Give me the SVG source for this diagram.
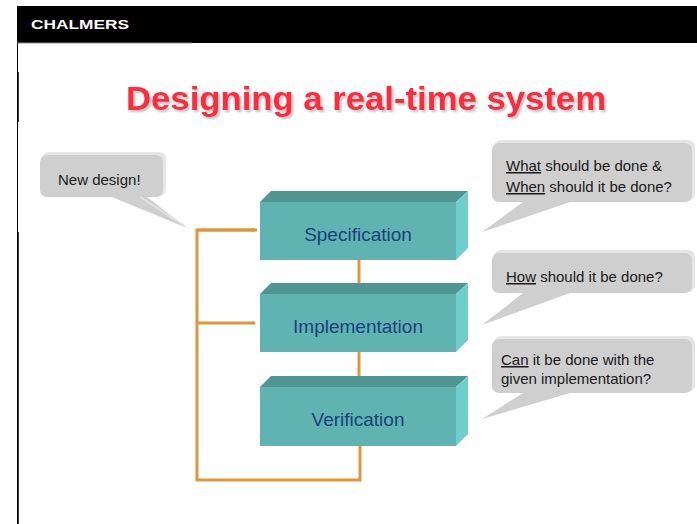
<svg xmlns="http://www.w3.org/2000/svg" width="697" height="524" viewBox="0 0 697 524">
  <style>
    .hdr { font-family: "Liberation Sans", Arial, sans-serif; font-weight: bold; fill: #ffffff; }
    .title { font-family: "Liberation Sans", Arial, sans-serif; font-weight: bold; font-size: 34px; }
    .box-front { fill: #5fb4b2; }
    .box-top { fill: #4f9693; }
    .box-side { fill: #6fcdcc; }
    .box-text { font-family: "Liberation Sans", Arial, sans-serif; font-size: 19px; fill: #1d3f7c; text-anchor: middle; }
    .bubble { fill: #cfcfcf; }
    .bubble-edge { fill: #e6e6e6; }
    .btext { font-family: "Liberation Sans", Arial, sans-serif; font-size: 15px; fill: #1a1a1a; }
    .conn { fill: none; stroke: #e0973a; stroke-width: 3; }
  </style>
  <defs>
    <marker id="tip" viewBox="0 0 4 4" refX="3" refY="2" markerWidth="4" markerHeight="4" markerUnits="userSpaceOnUse" orient="auto">
      <path d="M0,0 L4,2 L0,4 Z" fill="#e0973a"/>
    </marker>
    <filter id="shadow" x="-5%" y="-20%" width="110%" height="150%">
      <feDropShadow dx="2" dy="2" stdDeviation="1" flood-color="#000000" flood-opacity="0.25"/>
    </filter>
  </defs>
  <rect x="0" y="0" width="697" height="524" fill="#ffffff"/>

  <!-- header -->
  <g id="header">
    <rect x="17" y="6" width="680" height="37" fill="#000000"/>
    <line x1="17" y1="43" x2="192" y2="43" stroke="#888888" stroke-width="1"/>
    <line x1="17.5" y1="43" x2="17.5" y2="524" stroke="#000000" stroke-width="1"/>
    <line x1="18" y1="72" x2="18" y2="122" stroke="#000000" stroke-width="1.5"/>
    <line x1="18" y1="232" x2="18" y2="524" stroke="#000000" stroke-width="1.5"/>
    <text class="hdr" x="31" y="28.5" font-size="13.5" textLength="98" lengthAdjust="spacingAndGlyphs">CHALMERS</text>
  </g>

  <g id="title">
    <text class="title" x="126" y="110" fill="#ff2a3a" filter="url(#shadow)" textLength="480" lengthAdjust="spacingAndGlyphs">Designing a real-time system</text>
  </g>

  <!-- connectors -->
  <g id="connectors">
    <polyline class="conn" points="257,230 197,230 197,480 360,480 360,446"/>
    <line class="conn" x1="197" y1="230" x2="255" y2="230" marker-end="url(#tip)"/>
    <line class="conn" x1="197" y1="323" x2="255" y2="323" marker-end="url(#tip)"/>
    <line class="conn" x1="359" y1="260" x2="359" y2="294"/>
    <line class="conn" x1="359" y1="352" x2="359" y2="387"/>
  </g>

  <!-- boxes -->
  <g id="specification">
    <polygon class="box-top" points="260,202 271,191 468,191 456,202"/>
    <polygon class="box-side" points="456,202 468,191 468,248 456,260"/>
    <rect class="box-front" x="260" y="202" width="196" height="58"/>
    <text class="box-text" x="358" y="241">Specification</text>
  </g>
  <g id="implementation">
    <polygon class="box-top" points="260,294 271,283 468,283 456,294"/>
    <polygon class="box-side" points="456,294 468,283 468,340 456,352"/>
    <rect class="box-front" x="260" y="294" width="196" height="58"/>
    <text class="box-text" x="358" y="333">Implementation</text>
  </g>
  <g id="verification">
    <polygon class="box-top" points="260,387 271,376 468,376 456,387"/>
    <polygon class="box-side" points="456,387 468,376 468,434 456,446"/>
    <rect class="box-front" x="260" y="387" width="196" height="59"/>
    <text class="box-text" x="358" y="426">Verification</text>
  </g>

  <!-- callouts -->
  <g id="callout-new">
    <rect class="bubble-edge" x="42" y="152" width="124" height="44" rx="7"/>
    <path class="bubble" d="M47,155 H156 A7,7 0 0 1 163,162 V190 A7,7 0 0 1 156,197 H147 L187,228 L112,197 H47 A7,7 0 0 1 40,190 V162 A7,7 0 0 1 47,155 Z"/>
    <line x1="140" y1="197" x2="185" y2="226" stroke="#e2e2e2" stroke-width="1.5"/>
    <text class="btext" x="58" y="185">New design!</text>
  </g>

  <g id="callout-what">
    <rect class="bubble-edge" x="494" y="140" width="201" height="61" rx="7"/>
    <path class="bubble" d="M499,143 H685 A7,7 0 0 1 692,150 V195 A7,7 0 0 1 685,202 H570 L482,232 L523,202 H499 A7,7 0 0 1 492,195 V150 A7,7 0 0 1 499,143 Z"/>
    <text class="btext" x="506" y="171"><tspan text-decoration="underline">What</tspan> should be done &amp;</text>
    <text class="btext" x="506" y="192"><tspan text-decoration="underline">When</tspan> should it be done?</text>
  </g>

  <g id="callout-how">
    <rect class="bubble-edge" x="494" y="250" width="201" height="42" rx="7"/>
    <path class="bubble" d="M499,253 H685 A7,7 0 0 1 692,260 V286 A7,7 0 0 1 685,293 H570 L482,325 L523,293 H499 A7,7 0 0 1 492,286 V260 A7,7 0 0 1 499,253 Z"/>
    <text class="btext" x="506" y="282"><tspan text-decoration="underline">How</tspan> should it be done?</text>
  </g>

  <g id="callout-can">
    <rect class="bubble-edge" x="494" y="336" width="201" height="56" rx="7"/>
    <path class="bubble" d="M499,339 H685 A7,7 0 0 1 692,346 V386 A7,7 0 0 1 685,393 H570 L482,419 L523,393 H499 A7,7 0 0 1 492,386 V346 A7,7 0 0 1 499,339 Z"/>
    <text class="btext" x="501" y="365"><tspan text-decoration="underline">Can</tspan> it be done with the</text>
    <text class="btext" x="501" y="384">given implementation?</text>
  </g>
</svg>
